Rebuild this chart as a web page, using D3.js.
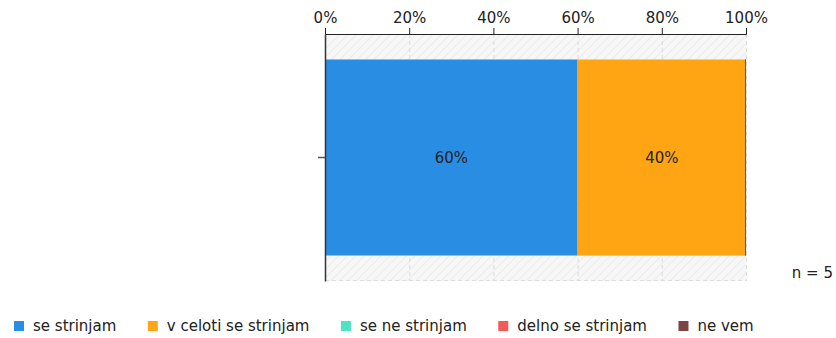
<!DOCTYPE html>
<html><head><meta charset="utf-8">
<script src="https://cdn.jsdelivr.net/npm/d3@7"></script>
<style>body{margin:0;background:#fff}svg{display:block}text{font-family:"DejaVu Sans",sans-serif;fill:#222}</style>
</head><body><svg id="c" width="836" height="338"></svg>
<script>
const categories = [""];
const seriesNames = ["se strinjam","v celoti se strinjam","se ne strinjam","delno se strinjam","ne vem"];
const seriesColors = ["#2a8de4","#ffa514","#4ee3c2","#f25a5a","#7b4545"];
const seriesValues = [[60],[40],[0],[0],[0]];
const tickValues = [0,20,40,60,80,100];
const nLabel = "n = 5";

const svg = d3.select("#c");
const m = {left:325, right:746, top:34, bottom:281};
const x = d3.scaleLinear().domain([0,100]).range([m.left,m.right]);
const y = d3.scaleBand().domain(categories).range([m.top,m.bottom]).paddingInner(0).paddingOuter(0.13);

const defs = svg.append("defs");
const pat = defs.append("pattern").attr("id","hatch").attr("patternUnits","userSpaceOnUse")
  .attr("width",6).attr("height",6).attr("patternTransform","rotate(45)");
pat.append("rect").attr("width",6).attr("height",6).attr("fill","#f7f7f7");
pat.append("line").attr("x1",0).attr("y1",0).attr("x2",0).attr("y2",6).attr("stroke","#ebebeb").attr("stroke-width",2);
svg.append("rect").attr("x",m.left).attr("y",m.top).attr("width",m.right-m.left).attr("height",m.bottom-m.top).attr("fill","url(#hatch)");

// grid
svg.append("g").selectAll("line").data(tickValues.slice(1)).join("line")
  .attr("x1",d=>x(d)+0.5).attr("x2",d=>x(d)+0.5).attr("y1",m.top).attr("y2",m.bottom)
  .attr("stroke","#dcdcdc").attr("stroke-dasharray","4,3");
svg.append("line").attr("x1",m.left).attr("x2",m.right).attr("y1",m.bottom-0.5).attr("y2",m.bottom-0.5)
  .attr("stroke","#dcdcdc").attr("stroke-dasharray","4,3");

// bars
categories.forEach((c,ci)=>{
  let cum = 0;
  seriesValues.forEach((vals,si)=>{
    const v = vals[ci];
    const x0 = x(cum), x1 = x(cum+v);
    svg.append("rect").attr("x", v>0?x0:x0-1).attr("width", v>0?x1-x0:1)
      .attr("y",y(c)).attr("height",y.bandwidth()).attr("fill",seriesColors[si]);
    if(v>0){
      svg.append("text").attr("x",(x0+x1)/2).attr("y",y(c)+y.bandwidth()/2).attr("dy","0.35em")
        .attr("text-anchor","middle").style("font-size","15px").text(v+"%");
    }
    cum += v;
  });
});

// top axis
const ax = svg.append("g").attr("transform",`translate(0,${m.top})`)
  .call(d3.axisTop(x).tickValues(tickValues).tickFormat(d=>d+"%").tickSize(6).tickSizeOuter(6).tickPadding(5));
ax.select(".domain").attr("stroke","#222");
ax.selectAll(".tick line").attr("stroke","#222");
ax.selectAll("text").style("font-size","15px").attr("fill","#222").attr("font-family","DejaVu Sans");

// left axis
const ay = svg.append("g").attr("transform",`translate(${m.left},0)`)
  .call(d3.axisLeft(y).tickSize(7).tickSizeOuter(0));
ay.select(".domain").attr("stroke","#333").attr("stroke-width",1.5);
ay.selectAll(".tick line").attr("stroke","#555").attr("stroke-width",1.5);

svg.append("text").attr("x",833).attr("y",278).attr("text-anchor","end").style("font-size","15px").text(nLabel);

// legend
const lg = svg.append("g");
let lx = 14;
seriesNames.forEach((n,i)=>{
  lg.append("rect").attr("x",lx).attr("y",321).attr("width",10).attr("height",10).attr("fill",seriesColors[i]);
  const t = lg.append("text").attr("x",lx+19).attr("y",326).attr("dy","0.35em").style("font-size","15px").text(n);
  lx += 19 + t.node().getComputedTextLength() + 31.5;
});
</script></body></html>
